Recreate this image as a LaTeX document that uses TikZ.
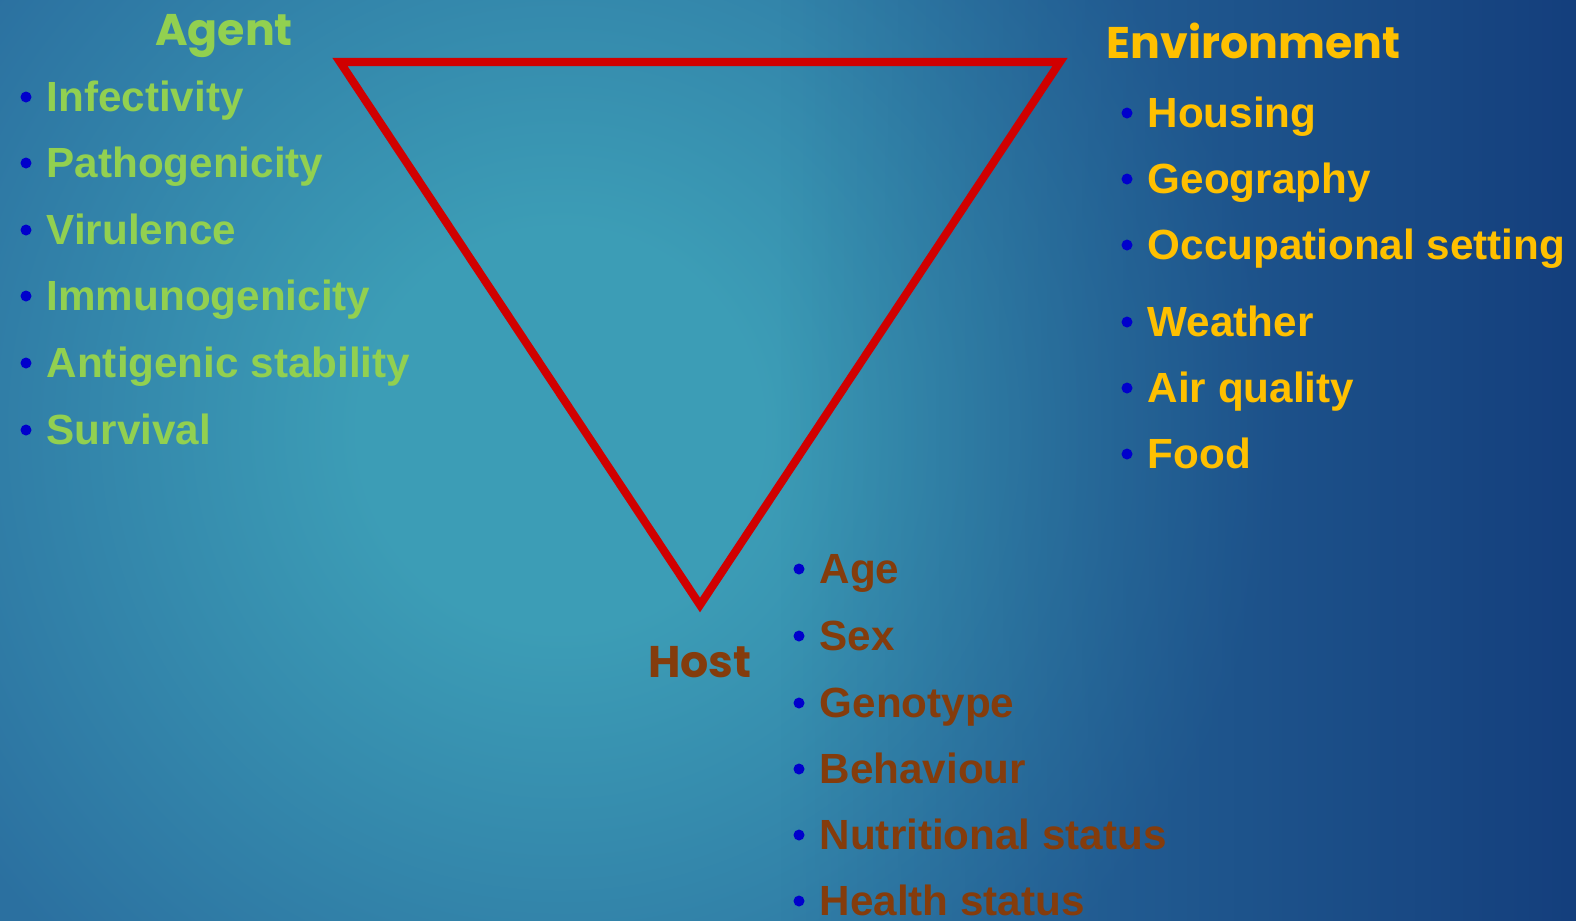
\documentclass[tikz,border=0pt]{standalone}
\usepackage{fontspec}
\setmainfont{Liberation Sans}
\newfontfamily\headfont{Poppins}
\usetikzlibrary{positioning, fadings}
\definecolor{GlowCore}{HTML}{3C9DB6}
\definecolor{GlowRim}{HTML}{2B70A0}
\definecolor{DeepNavy}{HTML}{0C2D70}
\definecolor{TriadRed}{HTML}{D00000}
\definecolor{AgentGreen}{HTML}{92D050}
\definecolor{EnvGold}{HTML}{FFC000}
\definecolor{HostBrown}{HTML}{843C0C}
\definecolor{BulletBlue}{HTML}{0000CC}
\pgfdeclareradialshading{seaglow}{\pgfpointorigin}{color(0bp)=(GlowCore); color(5bp)=(GlowCore); color(18bp)=(GlowRim); color(25bp)=(GlowRim); color(50bp)=(GlowRim)}
\tikzfading[name=navyfade, left color=transparent!100, right color=transparent!0]
\tikzset{
    heading/.style={inner sep=0pt, anchor=base, font=\headfont\bfseries\fontsize{12.6}{15}\selectfont},
    factor/.style={inner sep=0pt, anchor=base west, font=\bfseries\fontsize{12}{14}\selectfont},
    bulletdot/.style={fill=BulletBlue},
    triad edge/.style={draw=TriadRed, line width=2.3pt, line join=miter}
}

\begin{document}
\begin{tikzpicture}[x=0.01cm, y=-0.01cm]
        % Slide background: teal glow on the left, navy towards the right edge
        \useasboundingbox (0,0) rectangle (1576,920);
        \begin{scope}
            \clip (-10,-10) rectangle (1586,930);
            \fill[GlowRim] (-10,-10) rectangle (1586,930);
            \shade[shading=seaglow] (560,430) circle (1000);
            \fill[DeepNavy, fill opacity=0.74, path fading=navyfade] (780,-10) rectangle (1586,930);
        \end{scope}

        % Epidemiologic triangle (pointing down)
        \coordinate (agentcorner) at (340,62);
        \coordinate (envcorner) at (1060,62);
        \coordinate (hostcorner) at (700,605);
        \draw[triad edge] (agentcorner) -- (envcorner) -- (hostcorner) -- cycle;

        % Agent factors
        \node[heading, color=AgentGreen] (agent) at (224,45) {Agent};
        \node[factor, color=AgentGreen] (inf) at (46,111) {Infectivity};
        \node[factor, color=AgentGreen] (pat) at (46,177) {Pathogenicity};
        \node[factor, color=AgentGreen] (vir) at (46,244) {Virulence};
        \node[factor, color=AgentGreen] (imm) at (46,310) {Immunogenicity};
        \node[factor, color=AgentGreen] (ant) at (46,377) {Antigenic stability};
        \node[factor, color=AgentGreen] (sur) at (46,444) {Survival};

        % Environment factors
        \node[heading, anchor=base west, color=EnvGold] (env) at (1106,58) {Environment};
        \node[factor, color=EnvGold] (hou) at (1147,127) {Housing};
        \node[factor, color=EnvGold] (geo) at (1147,193) {Geography};
        \node[factor, color=EnvGold] (occ) at (1147,259) {Occupational setting};
        \node[factor, color=EnvGold] (wea) at (1147,336) {Weather};
        \node[factor, color=EnvGold] (air) at (1147,402) {Air quality};
        \node[factor, color=EnvGold] (foo) at (1147,468) {Food};

        % Host factors
        \node[heading, color=HostBrown] (host) at (700,677) {Host};
        \node[factor, color=HostBrown] (age) at (819,583) {Age};
        \node[factor, color=HostBrown] (sex) at (819,650) {Sex};
        \node[factor, color=HostBrown] (gen) at (819,717) {Genotype};
        \node[factor, color=HostBrown] (beh) at (819,783) {Behaviour};
        \node[factor, color=HostBrown] (nut) at (819,849) {Nutritional status};
        \node[factor, color=HostBrown] (hea) at (819,915) {Health status};

        % Blue bullets in front of every factor
        \foreach \item in {inf,pat,vir,imm,ant,sur,hou,geo,occ,wea,air,foo,age,sex,gen,beh,nut,hea}
            \fill[bulletdot] (\item.base west) ++(-20,-14) circle (5.5);
    \end{tikzpicture}
\end{document}
